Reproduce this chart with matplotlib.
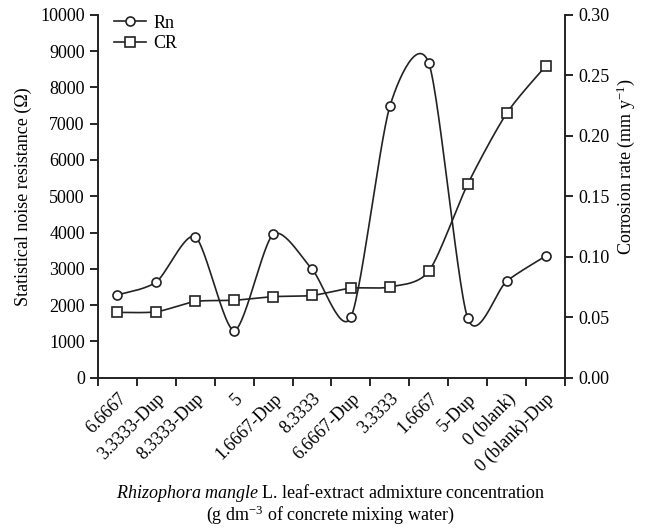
import numpy as np
import matplotlib
matplotlib.use("Agg")
import matplotlib.pyplot as plt
from matplotlib.lines import Line2D

plt.rcParams['font.family'] = ['Liberation Serif', 'DejaVu Serif']
plt.rcParams['mathtext.fontset'] = 'custom'
plt.rcParams['mathtext.rm'] = 'Liberation Serif'
plt.rcParams['mathtext.it'] = 'Liberation Serif:italic'

# 数据
categories = ['6.6667', '3.3333-Dup', '8.3333-Dup', '5', '1.6667-Dup', '8.3333',
              '6.6667-Dup', '3.3333', '1.6667', '5-Dup', '0 (blank)', '0 (blank)-Dup']
rn = [2280, 2640, 3880, 1300, 3950, 2990, 1670, 7480, 8670, 1640, 2660, 3350]
cr = [0.054, 0.0545, 0.063, 0.064, 0.067, 0.068, 0.074, 0.075, 0.088, 0.160, 0.2185, 0.2575]


def smooth(x, y, k=0.13, n=30):
    # 平滑曲线 (Catmull-Rom -> Bezier)
    x = np.asarray(x, float)
    y = np.asarray(y, float)
    px = np.concatenate([[x[0]], x, [x[-1]]])
    py = np.concatenate([[y[0]], y, [y[-1]]])
    t = np.linspace(0, 1, n)
    xs, ys = [], []
    for i in range(1, len(px) - 2):
        x0, y0 = px[i], py[i]
        x3, y3 = px[i + 1], py[i + 1]
        x1 = x0 + (px[i + 1] - px[i - 1]) * k
        y1 = y0 + (py[i + 1] - py[i - 1]) * k
        x2 = x3 - (px[i + 2] - px[i]) * k
        y2 = y3 - (py[i + 2] - py[i]) * k
        b0 = (1 - t) ** 3
        b1 = 3 * (1 - t) ** 2 * t
        b2 = 3 * (1 - t) * t ** 2
        b3 = t ** 3
        xs.append(b0 * x0 + b1 * x1 + b2 * x2 + b3 * x3)
        ys.append(b0 * y0 + b1 * y1 + b2 * y2 + b3 * y3)
    return np.concatenate(xs), np.concatenate(ys)


pos = np.arange(len(categories)) + 0.5
fs = 13

fig = plt.figure(figsize=(6.46, 5.29), dpi=100)
ax = fig.add_axes([0.1517, 0.286, 0.7229, 0.686])
ax2 = ax.twinx()

sx, sy = smooth(pos, rn)
ax.plot(sx, sy, color='#222222', lw=1.2)
ax.plot(pos, rn, 'o', ms=6.5, mfc='white', mec='#222222', mew=1.2)

sx, sy = smooth(pos, cr)
ax2.plot(sx, sy, color='#222222', lw=1.2)
ax2.plot(pos, cr, 's', ms=6.5, mfc='white', mec='#222222', mew=1.2)

ax.set_xlim(0, len(categories))
ax.set_ylim(0, 10000)
ax2.set_ylim(0, 0.30)
ax.set_yticks(np.arange(0, 10001, 1000))
ax2.set_yticks(np.arange(0, 0.301, 0.05))
ax2.set_yticklabels(['%.2f' % v for v in np.arange(0, 0.301, 0.05)])

ax.set_xticks(pos)
ax.set_xticklabels(categories, rotation=45, ha='right', rotation_mode='anchor')
ax.set_xticks(np.arange(0, len(categories) + 1), minor=True)
ax.tick_params(axis='x', which='major', length=0, pad=9, labelsize=fs)
ax.tick_params(axis='x', which='minor', length=6, width=1.2, direction='out')
ax.tick_params(axis='y', length=6, width=1.2, direction='out', labelsize=fs)
ax2.tick_params(axis='y', length=6, width=1.2, direction='out', labelsize=fs)

for a in (ax, ax2):
    a.spines['top'].set_visible(False)
    for s in ('left', 'right', 'bottom'):
        a.spines[s].set_linewidth(1.2)
        a.spines[s].set_color('#222222')

ax.set_ylabel('Statistical noise resistance (Ω)', fontsize=fs, labelpad=6)
ax2.set_ylabel('Corrosion rate (mm y$^{-1}$)', fontsize=fs)
ax2.yaxis.set_label_coords(1.105, 0.583)

fig.text(0.512, 0.047, '$\\it{Rhizophora\\ mangle}$ L. leaf-extract admixture concentration\n'
         '(g dm$^{-3}$ of concrete mixing water)', ha='center', va='center', fontsize=fs,
         linespacing=1.0)

handles = [Line2D([], [], color='#222222', lw=1.2, marker='o', ms=6.5, mfc='white', mew=1.2),
           Line2D([], [], color='#222222', lw=1.2, marker='s', ms=6.5, mfc='white', mew=1.2)]
ax.legend(handles, ['Rn', 'CR'], loc='upper left', bbox_to_anchor=(0.0, 1.045), frameon=False,
          fontsize=fs, handlelength=1.75, handletextpad=0.4, labelspacing=0.2)

fig.savefig('out.png', dpi=100)
